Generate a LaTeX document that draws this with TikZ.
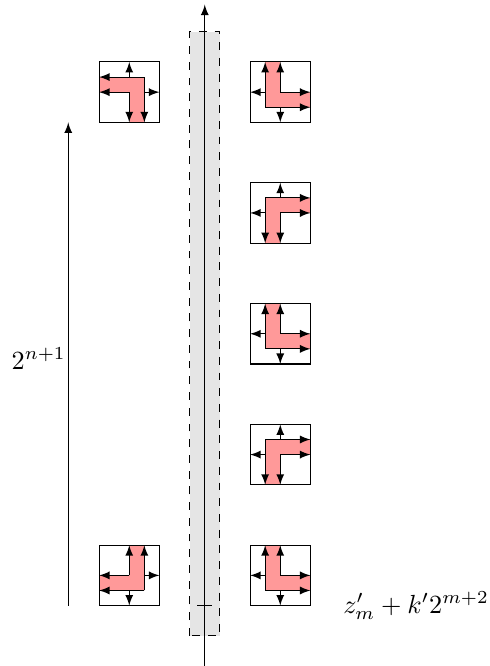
\documentclass[tikz,border=0pt]{standalone}
\usepackage{amsmath}
\usepackage{amssymb}
\usepackage{tikz}
\usetikzlibrary{arrows}
\definecolor{tilepink}{RGB}{255,153,153}
\tikzset{
	tilebox/.style={draw=black},
	band/.style={fill=tilepink},
	strip/.style={fill=gray!20, draw=black, dashed},
}
% one turning tile, arms pointing right/up before scaling
\newcommand{\turntile}[4]{%
	\begin{scope}[shift={(#1,#2)}, xscale=#3, yscale=#4]
		\fill [band] (-0.25,-0.25) -- (-0.25,0.5) -- (0,0.5) -- (0,0) -- (0.5,0) -- (0.5,-0.25) -- cycle;
		\draw [->] (-0.25,-0.25) -- (-0.25,0.5);
		\draw [->] (0,0) -- (0,0.5);
		\draw [->] (0,0) -- (0.5,0);
		\draw [->] (-0.25,-0.25) -- (0.5,-0.25);
		\draw [->] (-0.25,0) -- (-0.5,0);
		\draw [->] (0,-0.25) -- (0,-0.5);
		\draw [tilebox] (-0.5,-0.5) rectangle (0.5,0.5);
	\end{scope}}

\begin{document}
\begin{tikzpicture}[>=latex, x=0.81cm, y=0.81cm]
		\useasboundingbox (-3.39,0) rectangle (4.706,11.026);
		%\draw [help lines] (-3,0) grid (4,11);
		\draw [strip] (-0.25,0.5) rectangle (0.25,10.5);
		\coordinate (axb) at (0,0);
		\coordinate (axt) at (0,10.95);
		\draw [->] (axb) -- (axt);
		\draw (-0.125,1) -- (0.125,1);
		\coordinate (lo) at (-2.26,1);
		\coordinate (hi) at (-2.26,9);
		\draw [->] (lo) -- (hi) node [pos=0.5, left, inner sep=0.8pt, yshift=2pt] (len) {$2^{n+1}$};
		\node [right] (off) at (2.14,1) {$z'_m+k'2^{m+2}$};
		\turntile{-1.25}{9.5}{-1}{-1}
		\turntile{-1.25}{1.5}{-1}{1}
		\foreach \r/\s in {9.5/1,7.5/-1,5.5/1,3.5/-1,1.5/1}
			\turntile{1.25}{\r}{1}{\s};
	\end{tikzpicture}
\end{document}
